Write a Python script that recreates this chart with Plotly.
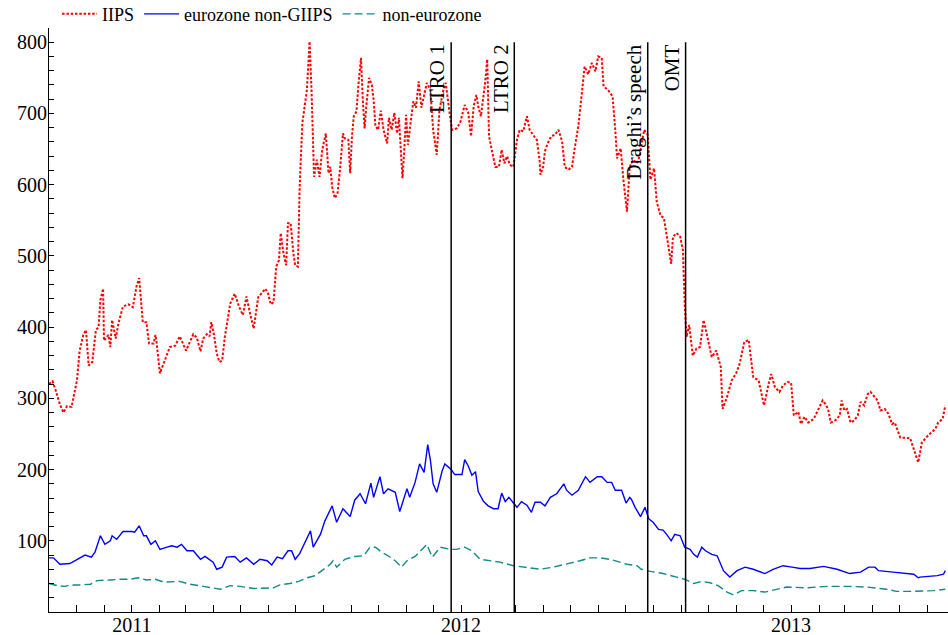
import pandas as pd
import plotly.graph_objects as go

# day offsets are counted from this date
start = pd.Timestamp("2010-10-01")

iips_days = [0, 4, 8, 12, 16, 20, 25, 31, 34, 38,
             41, 44, 48, 52, 55, 57, 60, 61, 66, 68,
             70, 72, 74, 77, 82, 88, 93, 97, 100, 104,
             108, 111, 116, 118, 119, 123, 127, 134, 140, 145,
             152, 160, 164, 168, 171, 175, 178, 180, 183, 186,
             189, 192, 195, 198, 201, 206, 211, 215, 219, 223,
             227, 232, 240, 243, 246, 249, 252, 255, 257, 260,
             263, 265, 268, 271, 273, 276, 278, 281, 284, 286,
             289, 291, 294, 297, 300, 303, 307, 310, 312, 314,
             317, 320, 323, 326, 328, 332, 334, 336, 338, 341,
             343, 346, 348, 350, 352, 355, 358, 360, 362, 365,
             368, 371, 375, 377, 380, 383, 386, 388, 390, 392,
             394, 396, 398, 400, 404, 407, 410, 413, 419, 423,
             426, 430, 433, 437, 440, 444, 447, 452, 456, 461,
             465, 468, 471, 474, 476, 479, 481, 484, 486, 488,
             491, 495, 499, 502, 505, 508, 511, 515, 517, 519,
             522, 526, 530, 533, 538, 541, 544, 545, 548, 550,
             553, 557, 561, 565, 569, 572, 576, 580, 583, 587,
             591, 594, 598, 602, 606, 609, 613, 615, 620, 625,
             628, 630, 634, 637, 641, 644, 648, 652, 655, 660,
             664, 667, 671, 674, 678, 682, 687, 690, 692, 696,
             700, 703, 705, 707, 710, 714, 718, 722, 726, 729,
             735, 740, 745, 747, 752, 757, 762, 766, 771, 776,
             781, 787, 793, 798, 801, 805, 810, 814, 819, 823,
             826, 831, 834, 838, 842, 848, 853, 858, 861, 864,
             867, 872, 877, 879, 882, 885, 889, 893, 897, 900,
             904, 908, 911, 914, 919, 922, 927, 931, 935, 938,
             944, 955, 964, 968, 975, 983, 986, 991, 994]
iips = [320, 324, 309, 292, 280, 289, 288, 325, 367, 389,
        396, 346, 351, 396, 400, 438, 454, 381, 389, 372,
        410, 396, 384, 405, 429, 432, 428, 457, 469, 407,
        407, 377, 377, 389, 382, 335, 349, 372, 374, 387,
        367, 390, 385, 366, 384, 390, 387, 407, 389, 363,
        351, 353, 386, 412, 433, 447, 428, 417, 443, 419,
        398, 442, 454, 447, 432, 435, 485, 494, 532, 504,
        487, 546, 546, 504, 487, 485, 597, 687, 712, 733,
        801, 738, 611, 635, 611, 649, 672, 616, 625, 597,
        581, 588, 625, 672, 665, 663, 616, 668, 696, 703,
        738, 778, 719, 679, 712, 750, 740, 719, 682, 677,
        704, 677, 658, 694, 677, 701, 672, 694, 653, 609,
        649, 698, 656, 677, 717, 708, 745, 708, 743, 733,
        677, 642, 705, 731, 743, 703, 677, 679, 687, 712,
        701, 668, 710, 726, 710, 696, 715, 747, 776, 668,
        649, 625, 625, 649, 630, 640, 628, 625, 644, 663,
        677, 675, 696, 677, 668, 663, 635, 614, 625, 647,
        658, 668, 670, 677, 661, 625, 621, 625, 651, 682,
        729, 766, 755, 771, 759, 780, 778, 738, 733, 724,
        677, 637, 651, 607, 562, 625, 635, 630, 640, 677,
        670, 607, 623, 576, 557, 553, 513, 489, 527, 532,
        527, 508, 433, 386, 403, 360, 370, 372, 410, 393,
        358, 367, 344, 285, 302, 325, 335, 349, 379, 382,
        330, 325, 290, 320, 334, 316, 309, 318, 323, 322,
        276, 281, 264, 274, 266, 271, 283, 297, 292, 285,
        266, 269, 276, 297, 283, 285, 266, 269, 276, 295,
        290, 306, 309, 304, 297, 283, 285, 278, 264, 266,
        245, 244, 210, 238, 248, 257, 266, 271, 290]

ez_days = [0, 5, 12, 20, 23, 29, 40, 47, 51, 57,
           62, 68, 70, 75, 82, 92, 95, 100, 105, 108,
           113, 118, 123, 131, 136, 142, 147, 153, 160, 168,
           173, 182, 186, 192, 197, 206, 212, 219, 227, 234,
           242, 247, 253, 259, 265, 269, 273, 278, 284, 290,
           293, 301, 306, 314, 319, 326, 334, 339, 345, 351,
           357, 360, 367, 371, 376, 384, 389, 397, 400, 406,
           411, 416, 420, 423, 426, 430, 436, 439, 446, 450,
           458, 461, 465, 469, 473, 476, 482, 487, 493, 498,
           502, 506, 510, 515, 519, 524, 530, 535, 539, 545,
           550, 556, 563, 571, 574, 580, 587, 595, 600, 608,
           613, 619, 624, 628, 635, 640, 644, 646, 650, 656,
           661, 665, 670, 676, 681, 685, 690, 694, 700, 705,
           711, 715, 719, 724, 728, 735, 741, 748, 755, 763,
           772, 781, 794, 803, 814, 824, 833, 844, 859, 874,
           888, 900, 909, 916, 920, 936, 959, 964, 966, 985,
           992, 994]
ez = [76, 76, 67, 67, 68, 72, 80, 77, 84, 107,
      95, 100, 107, 102, 113, 113, 112, 121, 107, 107,
      95, 100, 88, 91, 93, 91, 95, 86, 86, 74,
      78, 70, 60, 63, 77, 78, 70, 76, 67, 74,
      72, 66, 77, 75, 86, 86, 74, 82, 99, 114,
      91, 109, 128, 149, 126, 145, 134, 157, 166, 152,
      181, 161, 190, 166, 173, 168, 141, 173, 161, 182,
      208, 196, 235, 213, 180, 168, 198, 208, 200, 193,
      193, 214, 205, 192, 197, 169, 155, 149, 145, 145,
      167, 155, 161, 154, 147, 155, 150, 140, 154, 154,
      149, 161, 166, 180, 171, 164, 171, 190, 182, 190,
      190, 182, 182, 171, 171, 153, 161, 158, 147, 134,
      147, 131, 126, 116, 115, 109, 100, 109, 107, 91,
      88, 81, 77, 91, 86, 81, 79, 58, 49, 58,
      63, 60, 54, 60, 65, 63, 61, 61, 64, 60,
      54, 56, 63, 63, 58, 56, 53, 48, 49, 51,
      53, 58]

nez_days = [0, 9, 18, 23, 34, 46, 53, 60, 68, 79,
            90, 99, 108, 118, 127, 145, 156, 171, 182, 190,
            201, 212, 227, 242, 249, 256, 267, 277, 286, 295,
            303, 312, 315, 319, 328, 339, 349, 356, 362, 369,
            376, 384, 391, 397, 406, 413, 419, 425, 434, 445,
            452, 461, 469, 478, 489, 500, 515, 530, 545, 559,
            574, 589, 600, 611, 622, 632, 641, 652, 657, 667,
            681, 696, 705, 715, 724, 733, 742, 752, 759, 768,
            781, 794, 807, 818, 840, 863, 885, 907, 929, 940,
            959, 981, 994]
nez = [40, 37, 36, 38, 38, 39, 44, 44, 45, 46,
       46, 48, 45, 46, 42, 43, 39, 36, 34, 32,
       37, 36, 33, 33, 34, 38, 40, 43, 48, 51,
       58, 67, 72, 63, 74, 78, 79, 91, 91, 84,
       79, 72, 63, 72, 78, 88, 95, 77, 91, 88,
       88, 91, 86, 74, 72, 70, 65, 63, 60, 63,
       67, 72, 76, 76, 74, 70, 67, 65, 60, 57,
       54, 49, 46, 40, 43, 41, 37, 28, 24, 30,
       30, 28, 32, 35, 34, 36, 36, 35, 32, 29,
       29, 30, 32]

events = ["LTRO 1", "LTRO 2", "Draghi’s speech", "OMT"]
event_dates = ["2011-12-21", "2012-02-29", "2012-07-26", "2012-09-06"]

FONT = "Liberation Serif, Times New Roman, serif"


def to_dates(days):
    return start + pd.to_timedelta(days, unit="D")


fig = go.Figure()
fig.add_trace(go.Scatter(x=to_dates(iips_days), y=iips, mode="lines", name="IIPS",
                         line=dict(color="#ff0000", width=2, dash="2.5px,1.8px")))
fig.add_trace(go.Scatter(x=to_dates(ez_days), y=ez, mode="lines", name="eurozone non-GIIPS",
                         line=dict(color="#0000ff", width=1.4)))
fig.add_trace(go.Scatter(x=to_dates(nez_days), y=nez, mode="lines", name="non-eurozone",
                         line=dict(color="#108a8a", width=1.4, dash="8px,4px")))

for label, d in zip(events, event_dates):
    fig.add_shape(type="line", x0=d, x1=d, y0=0, y1=800, xref="x", yref="y",
                  opacity=1, line=dict(color="black", width=1.5))
    fig.add_annotation(x=d, y=800, xref="x", yref="y", text=label, textangle=-90,
                       showarrow=False, xanchor="right", yanchor="top",
                       font=dict(family=FONT, size=21, color="black"))

fig.update_layout(
    width=948, height=635,
    template="simple_white",
    paper_bgcolor="white", plot_bgcolor="white",
    font=dict(family=FONT, size=20, color="black"),
    margin=dict(l=49, r=0, t=28, b=23, autoexpand=False),
    showlegend=True,
    legend=dict(orientation="h", x=0.009, y=0.992, xanchor="left", yanchor="bottom",
                itemwidth=35, font=dict(family=FONT, size=18), bgcolor="rgba(0,0,0,0)"),
)
fig.update_xaxes(
    type="date", range=["2010-10-01", "2013-06-24"],
    dtick="M12", tick0="2011-01-01", tickformat="%Y",
    ticks="inside", ticklen=7, tickcolor="black", ticklabelstandoff=-5,
    minor=dict(dtick="M1", tick0="2010-10-01", ticks="inside", ticklen=7, tickcolor="black"),
    showline=True, linecolor="black", linewidth=1, showgrid=False, automargin=False,
)
fig.update_yaxes(
    range=[0, 820], tickvals=[100, 200, 300, 400, 500, 600, 700, 800],
    ticks="inside", ticklen=5, tickcolor="black", ticklabelstandoff=-3,
    minor=dict(dtick=20, tick0=0, ticks="inside", ticklen=5, tickcolor="black"),
    showline=True, linecolor="black", linewidth=1, showgrid=False, zeroline=False,
    automargin=False,
)

fig.write_html("out.html", config={"displayModeBar": False},
               post_script="document.body.style.margin='0';")
